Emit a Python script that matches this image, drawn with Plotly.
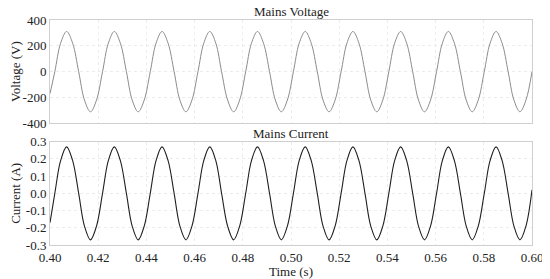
import plotly.graph_objects as go
from plotly.subplots import make_subplots

# sample times (s), read at every 1/8 cycle from the picture
time_s = [0.4000,
          0.4020, 0.4044,
          0.4069, 0.4094, 0.4119, 0.4143, 0.4168, 0.4193, 0.4218, 0.4242,
          0.4267, 0.4292, 0.4317, 0.4341, 0.4366, 0.4391, 0.4416, 0.4440,
          0.4465, 0.4490, 0.4515, 0.4539, 0.4564, 0.4589, 0.4614, 0.4638,
          0.4663, 0.4688, 0.4712, 0.4737, 0.4762, 0.4787, 0.4812, 0.4836,
          0.4861, 0.4886, 0.4911, 0.4935, 0.4960, 0.4985, 0.5010, 0.5034,
          0.5059, 0.5084, 0.5109, 0.5133, 0.5158, 0.5183, 0.5208, 0.5232,
          0.5257, 0.5282, 0.5307, 0.5331, 0.5356, 0.5381, 0.5406, 0.5430,
          0.5455, 0.5480, 0.5505, 0.5529, 0.5554, 0.5579, 0.5604, 0.5628,
          0.5653, 0.5678, 0.5703, 0.5727, 0.5752, 0.5777, 0.5802, 0.5826,
          0.5851, 0.5876, 0.5901, 0.5925, 0.5950, 0.5975, 0.6000]

voltage_v = [-170,
             0, 220,
             311, 220, 0, -220, -311, -220, 0, 220,
             311, 220, 0, -220, -311, -220, 0, 220,
             311, 220, 0, -220, -311, -220, 0, 220,
             311, 220, 0, -220, -311, -220, 0, 220,
             311, 220, 0, -220, -311, -220, 0, 220,
             311, 220, 0, -220, -311, -220, 0, 220,
             311, 220, 0, -220, -311, -220, 0, 220,
             311, 220, 0, -220, -311, -220, 0, 220,
             311, 220, 0, -220, -311, -220, 0, 220,
             311, 220, 0, -220, -311, -220, 0]

current_a = [-0.17,
             0.0, 0.19,
             0.27, 0.19, 0.0, -0.19, -0.27, -0.19, 0.0, 0.19,
             0.27, 0.19, 0.0, -0.19, -0.27, -0.19, 0.0, 0.19,
             0.27, 0.19, 0.0, -0.19, -0.27, -0.19, 0.0, 0.19,
             0.27, 0.19, 0.0, -0.19, -0.27, -0.19, 0.0, 0.19,
             0.27, 0.19, 0.0, -0.19, -0.27, -0.19, 0.0, 0.19,
             0.27, 0.19, 0.0, -0.19, -0.27, -0.19, 0.0, 0.19,
             0.27, 0.19, 0.0, -0.19, -0.27, -0.19, 0.0, 0.19,
             0.27, 0.19, 0.0, -0.19, -0.27, -0.19, 0.0, 0.19,
             0.27, 0.19, 0.0, -0.19, -0.27, -0.19, 0.0, 0.19,
             0.27, 0.19, 0.0, -0.19, -0.27, -0.19, 0.02]

v_ticks = [400, 200, 0, -200, -400]
v_ticktext = ['400', '200', '0', '-200', '-400']
i_ticks = [0.3, 0.2, 0.1, 0.0, -0.1, -0.2, -0.3]
i_ticktext = ['0.3', '0.2', '0.1', '0.0', '-0.1', '-0.2', '-0.3']
t_ticks = [0.40, 0.42, 0.44, 0.46, 0.48, 0.50, 0.52, 0.54, 0.56, 0.58, 0.60]

font_family = 'Liberation Serif, Times New Roman, serif'
txt = dict(family=font_family, size=13, color='#222')

fig = make_subplots(rows=2, cols=1, shared_xaxes=True, vertical_spacing=0.082,
                    subplot_titles=('Mains Voltage', 'Mains Current'))

fig.add_trace(go.Scatter(x=time_s, y=voltage_v, mode='lines',
                         line=dict(color='#8c8c8c', width=1, shape='spline', smoothing=1.0),
                         showlegend=False), row=1, col=1)
fig.add_trace(go.Scatter(x=time_s, y=current_a, mode='lines',
                         line=dict(color='#202020', width=1.1, shape='spline', smoothing=1.0),
                         showlegend=False), row=2, col=1)

axis_common = dict(showline=True, linecolor='#cfcfcf', linewidth=1, mirror=True,
                   showgrid=True, gridcolor='#ececec', griddash='dot', gridwidth=1,
                   zeroline=False, ticks='', tickfont=txt, automargin=False)

fig.update_xaxes(range=[0.40, 0.60], tickvals=t_ticks, tickformat='.2f', **axis_common)
fig.update_xaxes(showticklabels=False, row=1, col=1)
fig.update_xaxes(title=dict(text='Time (s)', font=txt, standoff=0), row=2, col=1)

fig.update_yaxes(range=[-400, 400], tickvals=v_ticks, ticktext=v_ticktext,
                 title=dict(text='Voltage (V)', font=txt, standoff=2),
                 row=1, col=1, **axis_common)
fig.update_yaxes(range=[-0.3, 0.3], tickvals=i_ticks, ticktext=i_ticktext,
                 title=dict(text='Current (A)', font=txt, standoff=2),
                 row=2, col=1, **axis_common)

for ann in fig.layout.annotations:
    ann.font = txt
    ann.yshift = -1

# the page body keeps an 8px margin, so the figure is made 8px smaller
fig.update_layout(
    width=542, height=271,
    margin=dict(l=42, r=18, t=12, b=34),
    paper_bgcolor='white', plot_bgcolor='white',
    font=txt,
)

fig.write_html('out.html')
